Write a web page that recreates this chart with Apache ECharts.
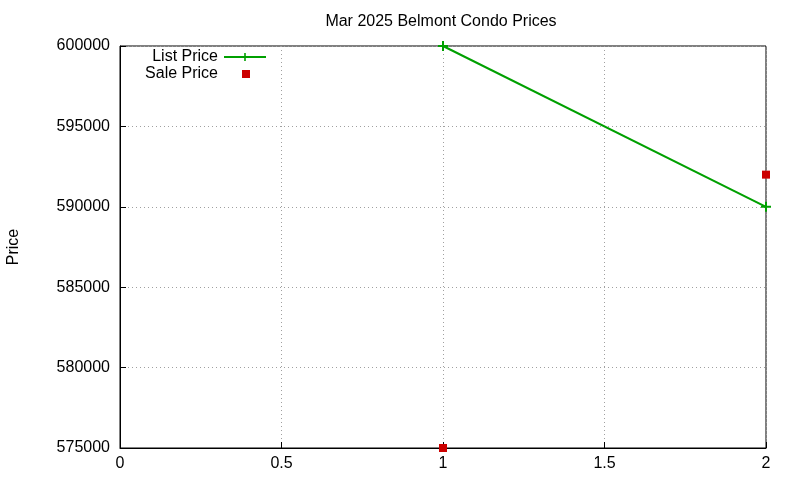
<!DOCTYPE html>
<html>
<head>
<meta charset="utf-8">
<script src="https://cdn.jsdelivr.net/npm/echarts@6/dist/echarts.min.js"></script>
<style>
html, body { margin: 0; padding: 0; background: #fff; }
#chart { width: 800px; height: 480px; }
</style>
</head>
<body>
<div id="chart"></div>
<script>
// data
var seriesNames = ['List Price', 'Sale Price'];
var listX = [1, 2];
var listPrice = [600000, 590000];
var saleX = [1, 2];
var salePrice = [575000, 592000];
var xTicks = [0, 0.5, 1, 1.5, 2];
var yTicks = [575000, 580000, 585000, 590000, 595000, 600000];

var green = '#00a000';
var red = '#cc0000';
var font = 'Liberation Sans, Arial, sans-serif';
// plus marker as filled shape
var plus = 'path://M4,0H6V4H10V6H6V10H4V6H0V4H4Z';

function pairs(xs, ys) {
    return xs.map(function (x, i) { return [x, ys[i]]; });
}

var chart = echarts.init(document.getElementById('chart'));
chart.setOption({
    backgroundColor: '#ffffff',
    animation: false,
    title: {
        text: 'Mar 2025 Belmont Condo Prices',
        left: 436, top: 9, textAlign: 'center',
        textStyle: { fontFamily: font, fontSize: 16, fontWeight: 'normal', color: '#000' }
    },
    legend: [{
        data: [seriesNames[0]],
        orient: 'vertical', align: 'right',
        right: 533, top: 49, padding: 0,
        itemWidth: 42, itemHeight: 10,
        textStyle: { fontFamily: font, fontSize: 16, color: '#000', padding: [0, 1, 0, 0] }
    }, {
        data: [seriesNames[1]],
        orient: 'vertical', align: 'right',
        right: 550, top: 66, padding: 0,
        itemWidth: 8, itemHeight: 8,
        itemStyle: { opacity: 1 },
        textStyle: { fontFamily: font, fontSize: 16, color: '#000', padding: [0, 19, 0, 0] }
    }],
    grid: {
        left: 120, right: 34, top: 46, bottom: 32,
        outerBoundsMode: 'none', containLabel: false,
        show: true, borderColor: '#000', borderWidth: 1
    },
    xAxis: {
        type: 'value', min: xTicks[0], max: xTicks[xTicks.length - 1], interval: 0.5,
        axisLine: { lineStyle: { color: '#000' } },
        axisTick: { inside: true, length: 6, lineStyle: { color: '#000' } },
        axisLabel: { color: '#000', fontFamily: font, fontSize: 16, margin: 8 },
        splitLine: { lineStyle: { color: '#a0a0a0', type: [1, 3] } }
    },
    yAxis: {
        type: 'value', min: yTicks[0], max: yTicks[yTicks.length - 1], interval: 5000,
        name: 'Price', nameLocation: 'middle', nameGap: 98, nameRotate: 90,
        nameTextStyle: { fontFamily: font, fontSize: 16, color: '#000' },
        axisLine: { lineStyle: { color: '#000' } },
        axisTick: { inside: true, length: 6, lineStyle: { color: '#000' } },
        axisLabel: {
            color: '#000', fontFamily: font, fontSize: 16, margin: 10,
            formatter: function (v) { return String(v); }
        },
        splitLine: { lineStyle: { color: '#a0a0a0', type: [1, 3] } }
    },
    series: [{
        name: seriesNames[0],
        type: 'line',
        data: pairs(listX, listPrice),
        color: green,
        symbol: plus, symbolSize: 10,
        showAllSymbol: true,
        lineStyle: { width: 2, color: green },
        itemStyle: { color: green, opacity: 1 },
        clip: false
    }, {
        name: seriesNames[1],
        type: 'scatter',
        data: pairs(saleX, salePrice),
        color: red,
        symbol: 'rect', symbolSize: 8,
        itemStyle: { color: red, opacity: 1 },
        clip: false
    }]
});
</script>
</body>
</html>
